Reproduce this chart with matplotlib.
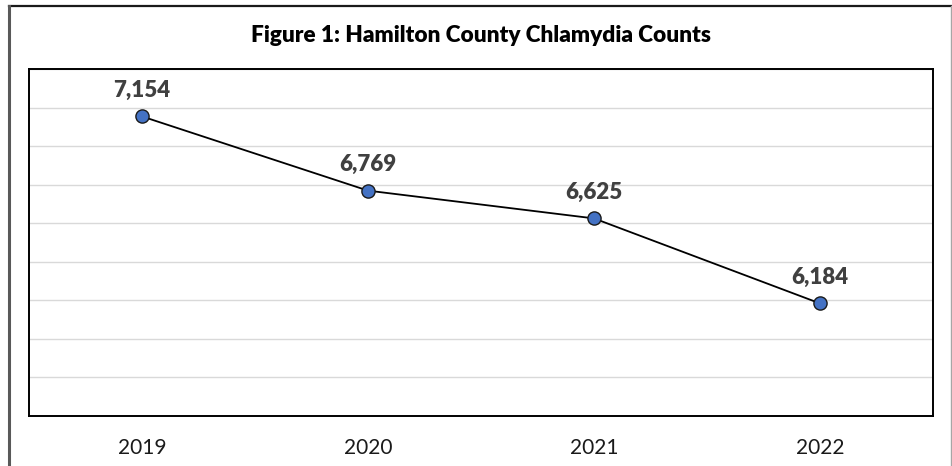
import matplotlib
matplotlib.use("Agg")
import matplotlib.pyplot as plt
from matplotlib.lines import Line2D

years = ["2019", "2020", "2021", "2022"]
counts = [7154, 6769, 6625, 6184]
title = "Figure 1: Hamilton County Chlamydia Counts"

W, H = 952, 466
fig = plt.figure(figsize=(W / 100, H / 100), dpi=100)
plt.rcParams['font.family'] = ['Lato', 'DejaVu Sans']

# plot area in pixel coords: left 29, right 933, top 69, bottom 416
L, R, T, B = 29, 933, 69, 416
ax = fig.add_axes([L / W, 1 - B / H, (R - L) / W, (B - T) / H])

x = list(range(len(years)))
ax.plot(x, counts, color="black", lw=1.3, zorder=3,
        marker="o", markersize=9.5, markerfacecolor="#4472C4",
        markeredgecolor="#1a1a1a", markeredgewidth=1.0)

for xi, v in zip(x, counts):
    ax.annotate(f"{v:,}", (xi, v), xytext=(0, 11), textcoords="offset points",
                ha="center", va="bottom", fontsize=16, fontweight="heavy",
                color="#404040")

ax.set_xlim(-0.5, len(years) - 0.5)
ax.set_ylim(5600, 7400)
ax.set_yticks(range(5600, 7401, 200))
ax.set_yticklabels([])
ax.tick_params(axis="y", length=0)
ax.set_xticks(x)
ax.set_xticklabels(years, fontsize=15, color="#1a1a1a")
ax.tick_params(axis="x", length=0, pad=16)
ax.grid(axis="y", color="#d9d9d9", lw=1.0)
ax.set_axisbelow(True)
for s in ax.spines.values():
    s.set_color("black")
    s.set_linewidth(1.4)

fig.text(481 / W, 1 - 35 / H, title, ha="center", va="center",
         fontsize=16.3, fontweight="heavy", color="black")

def px_line(x0, y0, x1, y1, **kw):
    fig.add_artist(Line2D([x0 / W, x1 / W], [1 - y0 / H, 1 - y1 / H],
                          transform=fig.transFigure, **kw))

px_line(9, 6, 951, 6, color="#1a1a1a", lw=1.6)
px_line(9, 6, 9, 466, color="#595959", lw=2.2)
px_line(951, 6, 951, 466, color="#a6a6a6", lw=1.0)

fig.savefig("out.png", dpi=100)
